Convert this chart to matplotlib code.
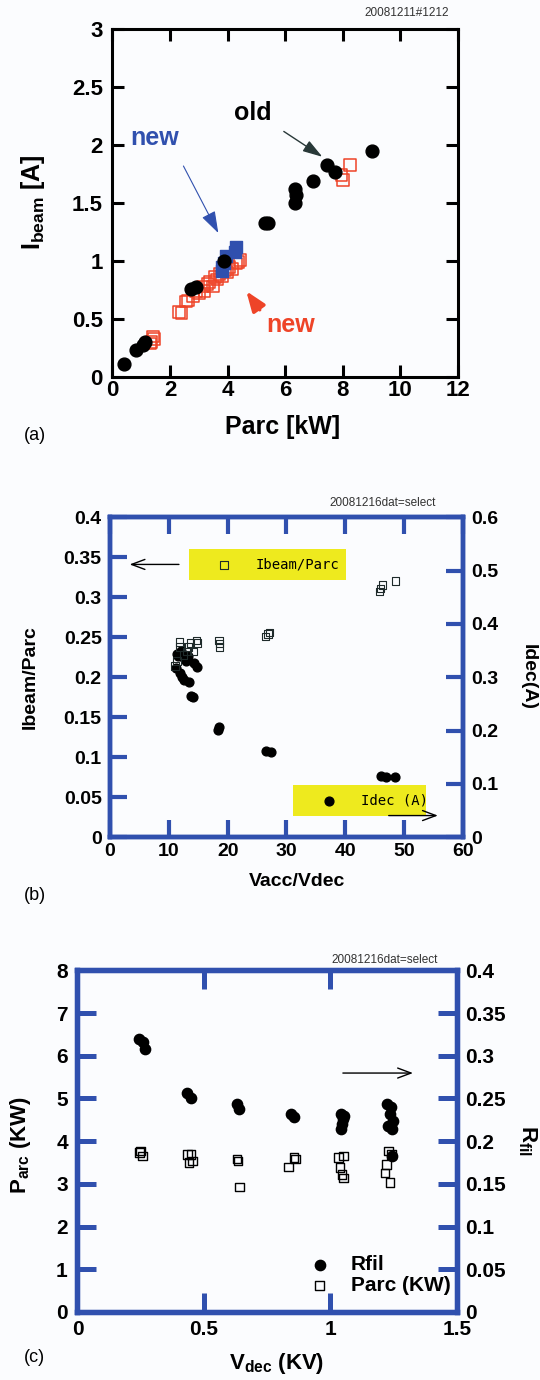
import matplotlib
matplotlib.use('Agg')
import matplotlib.pyplot as plt
from matplotlib.ticker import FormatStrFormatter

plt.rcParams['font.family'] = 'Liberation Sans'
plt.rcParams['font.weight'] = 'bold'
plt.rcParams['axes.labelweight'] = 'bold'
plt.rcParams['mathtext.default'] = 'regular'

# (a) Ibeam vs Parc
old_parc = [0.40, 0.80, 1.05, 1.12, 2.74, 2.91, 3.86, 5.31, 5.40, 6.33, 6.38, 6.33,
            6.97, 7.45, 7.74, 9.02]
old_ibeam = [0.11, 0.23, 0.28, 0.30, 0.76, 0.78, 1.00, 1.33, 1.33, 1.62, 1.57, 1.50,
             1.69, 1.83, 1.77, 1.95]
red_parc = [1.30, 1.35, 1.40, 1.45, 2.30, 2.40, 2.55, 2.62, 2.80, 2.91, 3.00, 3.14,
            3.20, 3.30, 3.37, 3.49, 3.55, 3.62, 3.72, 3.80, 3.90, 4.00, 4.07, 4.15,
            4.30, 4.36, 4.42, 7.95, 8.01, 8.24]
red_ibeam = [0.29, 0.30, 0.35, 0.33, 0.56, 0.55, 0.65, 0.66, 0.70, 0.74, 0.72, 0.78,
             0.74, 0.80, 0.82, 0.78, 0.86, 0.84, 0.89, 0.87, 0.92, 0.90, 0.95, 0.93,
             0.98, 0.99, 1.01, 1.74, 1.70, 1.83]
blue_parc = [3.82, 3.82, 3.86, 3.95, 4.24, 4.30]
blue_ibeam = [0.91, 0.95, 0.98, 1.04, 1.08, 1.12]

# (b) Ibeam/Parc and Idec vs Vacc/Vdec
ratio_vv = [11.1, 11.4, 11.8, 11.9, 12.5, 13.1, 13.35, 13.7, 14.2, 14.7, 14.8, 18.5,
            18.6, 18.6, 26.4, 26.9, 27.1, 45.8, 46.0, 46.3, 48.5]
ibeam_parc = [0.214, 0.220, 0.244, 0.238, 0.228, 0.232, 0.238, 0.243, 0.232, 0.246,
              0.243, 0.246, 0.242, 0.238, 0.251, 0.254, 0.256, 0.307, 0.311, 0.315, 0.320]
dec_vv = [11.2, 11.4, 11.6, 11.9, 12.0, 12.3, 12.5, 12.6, 13.0, 13.2, 13.5, 13.8,
          14.05, 14.2, 14.8, 18.4, 18.6, 26.5, 27.35, 46.0, 46.9, 48.5]
idec = [0.318, 0.344, 0.339, 0.3075, 0.350, 0.300, 0.295, 0.336, 0.330, 0.340, 0.292,
        0.265, 0.2625, 0.326, 0.320, 0.201, 0.2075, 0.162, 0.159, 0.114, 0.1125, 0.1125]

# (c) Rfil and Parc vs Vdec
rfil_vdec = [0.244, 0.258, 0.265, 0.434, 0.448, 0.631, 0.638, 0.842, 0.855, 1.040,
             1.050, 1.045, 1.040, 1.052, 1.225, 1.240, 1.235, 1.248, 1.228, 1.245, 1.242]
rfil = [0.320, 0.316, 0.308, 0.257, 0.251, 0.244, 0.238, 0.232, 0.228, 0.232, 0.226,
        0.220, 0.214, 0.229, 0.244, 0.240, 0.232, 0.224, 0.218, 0.214, 0.183]
parc_vdec = [0.244, 0.258, 0.250, 0.434, 0.455, 0.441, 0.448, 0.631, 0.635, 0.641,
             0.835, 0.855, 0.862, 1.032, 1.052, 1.038, 1.052, 1.045, 1.229, 1.222,
             1.215, 1.235, 1.242]
parc = [3.73, 3.65, 3.77, 3.69, 3.54, 3.50, 3.69, 3.58, 3.54, 2.93, 3.40, 3.62, 3.58,
        3.62, 3.65, 3.38, 3.14, 3.22, 3.77, 3.46, 3.26, 3.03, 3.69]

BLUE = '#3050ae'
RED = '#ee4428'
YELLOW = '#eeea1e'
BG = '#fbfcfe'

fig = plt.figure(figsize=(5.4, 13.8), dpi=100, facecolor=BG)
fmt = FormatStrFormatter('%g')

# ---------------- (a) ----------------
ax_a = fig.add_axes([0.2083, 0.7268, 0.6398, 0.2522])
ax_a.set_facecolor(BG)
ax_a.scatter(red_parc, red_ibeam, s=70, marker='s', facecolor='none',
             edgecolor=RED, linewidth=1.1, zorder=3)
ax_a.scatter(blue_parc, blue_ibeam, s=75, marker='s', color=BLUE, zorder=4)
ax_a.scatter(old_parc, old_ibeam, s=85, color='black', zorder=5)
ax_a.set_xlim(0, 12)
ax_a.set_ylim(0, 3)
ax_a.set_xticks(range(0, 13, 2))
ax_a.set_yticks([0, 0.5, 1, 1.5, 2, 2.5, 3])
ax_a.xaxis.set_major_formatter(fmt)
ax_a.yaxis.set_major_formatter(fmt)
ax_a.tick_params(direction='in', length=8.5, width=2.2, top=True, right=True,
                 labelsize=16)
ax_a.tick_params(axis='x', pad=2)
ax_a.tick_params(axis='y', pad=7)
for s in ax_a.spines.values():
    s.set_linewidth(2.2)
ax_a.set_xlabel('Parc [kW]', fontsize=18, va='center')
ax_a.xaxis.set_label_coords(0.493, -0.143)
ax_a.set_ylabel('I$_{beam}$ [A]', fontsize=18, va='center')
ax_a.yaxis.set_label_coords(-0.230, 0.504)

ax_a.text(4.87, 2.28, 'old', ha='center', va='center', fontsize=18)
ax_a.annotate('', xy=(7.37, 1.885), xytext=(5.87, 2.13),
              arrowprops=dict(arrowstyle='-|>,head_length=0.8,head_width=0.25',
                              color='#283838', lw=1, mutation_scale=15))
ax_a.text(1.46, 2.06, 'new', ha='center', va='center', fontsize=18, color=BLUE)
ax_a.annotate('', xy=(3.72, 1.22), xytext=(2.42, 1.84),
              arrowprops=dict(arrowstyle='-|>,head_length=0.9,head_width=0.3',
                              color=BLUE, lw=0.8, mutation_scale=15))
ax_a.text(6.18, 0.45, 'new', ha='center', va='center', fontsize=18, color=RED)
ax_a.annotate('', xy=(4.59, 0.76), xytext=(5.17, 0.56),
              arrowprops=dict(arrowstyle='-|>,head_length=0.8,head_width=0.3',
                              color=RED, lw=2.5, mutation_scale=15))
fig.text(406.7 / 540, 1 - 13.3 / 1380, '20081211#1212', fontsize=8.5,
         weight='normal', ha='center', va='center', color='#333333')
fig.text(35 / 540, 1 - 435 / 1380, '(a)', fontsize=13, weight='normal',
         ha='center', va='center')

# ---------------- (b) ----------------
ax_b = fig.add_axes([0.2037, 0.3933, 0.6537, 0.2319])
ax_b2 = ax_b.twinx()
ax_b.set_zorder(ax_b2.get_zorder() + 1)
ax_b.patch.set_visible(False)
ax_b2.set_facecolor(BG)
h_dec = ax_b2.scatter(dec_vv, idec, s=40, color='black')
h_ratio = ax_b.scatter(ratio_vv, ibeam_parc, s=30, marker='s', facecolor='none',
                       edgecolor='#1e2a2a', linewidth=0.8)
ax_b.set_xlim(0, 60)
ax_b.set_ylim(0, 0.4)
ax_b2.set_ylim(0, 0.6)
ax_b.set_xticks(range(0, 61, 10))
ax_b.set_yticks([i * 0.05 for i in range(9)])
ax_b2.set_yticks([i * 0.1 for i in range(7)])
for f_ax in (ax_b.xaxis, ax_b.yaxis, ax_b2.yaxis):
    f_ax.set_major_formatter(fmt)
ax_b.tick_params(direction='in', length=12, width=3, color=BLUE, labelsize=14,
                 top=True)
ax_b.tick_params(axis='x', pad=4)
ax_b.tick_params(axis='y', pad=6)
ax_b2.tick_params(direction='in', length=12, width=3, color=BLUE, labelsize=14,
                  pad=6)
for a in (ax_b, ax_b2):
    for s in a.spines.values():
        s.set_color(BLUE)
        s.set_linewidth(3.2)
ax_b.set_xlabel('Vacc/Vdec', fontsize=14, va='center')
ax_b.xaxis.set_label_coords(0.529, -0.139)
ax_b.set_ylabel('Ibeam/Parc', fontsize=14, va='center')
ax_b.yaxis.set_label_coords(-0.2245, 0.502)
ax_b2.set_ylabel('Idec(A)', fontsize=14, rotation=270, va='center')
ax_b2.yaxis.set_label_coords(1.185, 0.5)

leg_style = dict(loc='center', mode='expand', facecolor=YELLOW, edgecolor='none',
                 framealpha=1, fancybox=False, borderpad=0.6, handlelength=3.9,
                 handletextpad=0.35, borderaxespad=0,
                 prop={'family': 'DejaVu Sans Mono', 'weight': 'normal', 'size': 10})
leg1 = ax_b.legend([h_ratio], ['Ibeam/Parc'], bbox_to_anchor=(0.2225, 0.8526, 0.447, 0),
                   **leg_style)
ax_b.add_artist(leg1)
ax_b.legend([h_dec], ['Idec (A)'], bbox_to_anchor=(0.519, 0.1156, 0.376, 0),
            **leg_style)
ax_b.annotate('', xy=(2.86, 0.341), xytext=(12.19, 0.341), zorder=6,
              arrowprops=dict(arrowstyle='->,head_length=0.8,head_width=0.3',
                              color='black', lw=1, mutation_scale=12))
ax_b.annotate('', xy=(56.2, 0.0271), xytext=(46.9, 0.0271), zorder=6,
              arrowprops=dict(arrowstyle='->,head_length=0.8,head_width=0.3',
                              color='black', lw=1, mutation_scale=12))
fig.text(382.4 / 540, 1 - 503.3 / 1380, '20081216dat=select', fontsize=8.5,
         weight='normal', ha='center', va='center', color='#333333')
fig.text(34.5 / 540, 1 - 895 / 1380, '(b)', fontsize=13, weight='normal',
         ha='center', va='center')

# ---------------- (c) ----------------
ax_c = fig.add_axes([0.1435, 0.0493, 0.7028, 0.2475])
ax_c.set_facecolor(BG)
ax_c2 = ax_c.twinx()
h_parc = ax_c.scatter(parc_vdec, parc, s=38, marker='s', facecolor='none',
                      edgecolor='black', linewidth=1)
h_rfil = ax_c2.scatter(rfil_vdec, rfil, s=55, color='black')
ax_c.set_xlim(0, 1.5)
ax_c.set_ylim(0, 8)
ax_c2.set_ylim(0, 0.4)
ax_c.set_xticks([0, 0.5, 1, 1.5])
ax_c.set_yticks(range(0, 9))
ax_c2.set_yticks([i * 0.05 for i in range(9)])
for f_ax in (ax_c.xaxis, ax_c.yaxis, ax_c2.yaxis):
    f_ax.set_major_formatter(fmt)
ax_c.tick_params(direction='in', length=13.5, width=3.6, color=BLUE, labelsize=15,
                 top=True)
ax_c.tick_params(axis='x', pad=6)
ax_c.tick_params(axis='y', pad=7)
ax_c2.tick_params(direction='in', length=13.5, width=3.6, color=BLUE, labelsize=15,
                  pad=6)
for a in (ax_c, ax_c2):
    for s in a.spines.values():
        s.set_color(BLUE)
        s.set_linewidth(3.8)
ax_c.set_xlabel('V$_{dec}$ (KV)', fontsize=16, va='top')
ax_c.xaxis.set_label_coords(0.525, -0.114)
ax_c.set_ylabel('P$_{arc}$ (KW)', fontsize=16, va='center')
ax_c.yaxis.set_label_coords(-0.149, 0.489)
ax_c2.set_ylabel('R$_{fil}$', fontsize=16, rotation=270, va='center')
ax_c2.yaxis.set_label_coords(1.1855, 0.501)
ax_c2.legend([h_rfil, h_parc], ['Rfil', 'Parc (KW)'], loc='center left',
             bbox_to_anchor=(0.6106, 0.108), frameon=False, handlelength=1.0,
             handletextpad=1.0, borderpad=0, labelspacing=0.1, borderaxespad=0,
             prop={'size': 15, 'weight': 'bold'})
ax_c2.annotate('', xy=(1.337, 0.2798), xytext=(1.038, 0.2798),
               arrowprops=dict(arrowstyle='->,head_length=0.8,head_width=0.3',
                               color='black', lw=1, mutation_scale=12))
fig.text(384.9 / 540, 1 - 960.3 / 1380, '20081216dat=select', fontsize=8.5,
         weight='normal', ha='center', va='center', color='#333333')
fig.text(34.5 / 540, 1 - 1358 / 1380, '(c)', fontsize=13, weight='normal',
         ha='center', va='center')

fig.savefig('out.png', dpi=100, facecolor=BG)
